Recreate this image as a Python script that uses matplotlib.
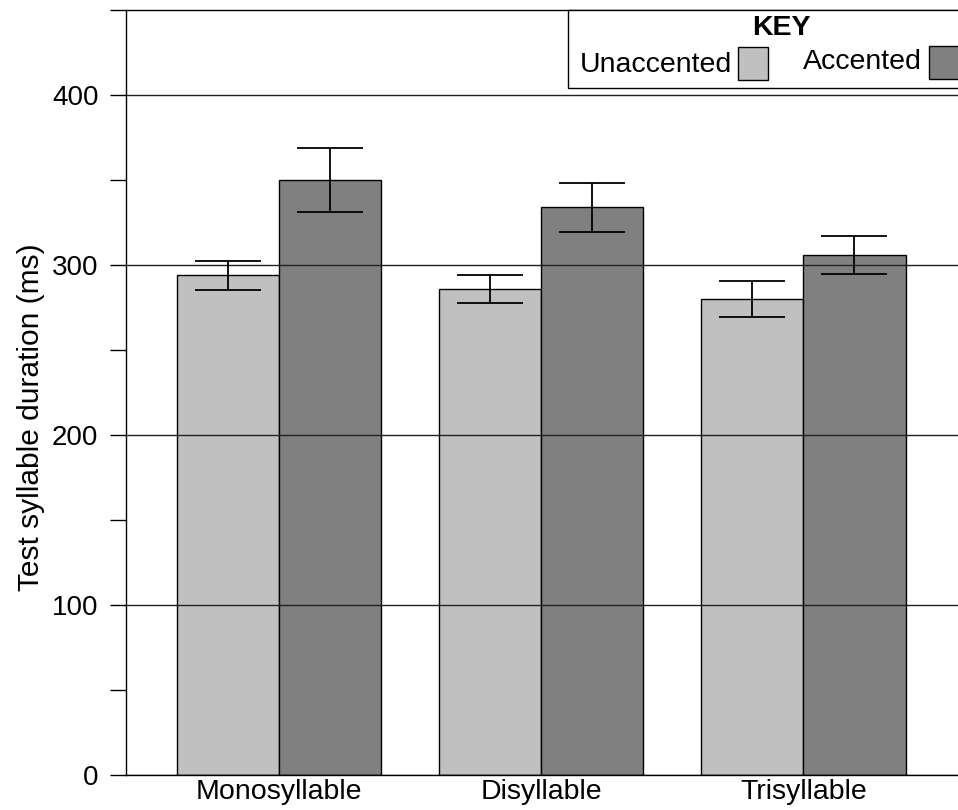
import numpy as np
import matplotlib.pyplot as plt
from matplotlib.patches import Rectangle

plt.rcParams['font.family'] = ['Liberation Sans', 'DejaVu Sans']

# Mean test syllable durations (ms) and error bar half-widths
categories = ['Monosyllable', 'Disyllable', 'Trisyllable']
unaccented = [294, 286, 280]
accented = [350, 334, 306]
unaccented_err = [8.6, 8.4, 10.5]
accented_err = [18.8, 14.3, 11.3]

W, H = 958, 810
fig = plt.figure(figsize=(W / 100, H / 100), dpi=100)
ax = fig.add_axes([125.5 / W, 35 / H, (958 - 125.5) / W, 765 / H])

x = np.arange(len(categories))
width = 0.39
light = '#c0c0c0'
dark = '#808080'

# grid lines sit on top of the bars
ax.set_axisbelow(False)
ax.bar(x - width / 2, unaccented, width, color=light, edgecolor='black', linewidth=1, zorder=1)
ax.bar(x + width / 2, accented, width, color=dark, edgecolor='black', linewidth=1, zorder=1)
ax.errorbar(x - width / 2, unaccented, yerr=unaccented_err, fmt='none', ecolor='black',
            elinewidth=1.3, capsize=24, capthick=1.3, zorder=4)
ax.errorbar(x + width / 2, accented, yerr=accented_err, fmt='none', ecolor='black',
            elinewidth=1.3, capsize=24, capthick=1.3, zorder=4)

ax.set_xlim(-0.585, 2.59)
ax.set_ylim(0, 450)
ax.set_xticks(x)
ax.set_xticklabels(categories, fontsize=20.5)
ax.tick_params(axis='x', length=0, pad=3)

ax.set_yticks([0, 100, 200, 300, 400])
ax.set_yticks([50, 150, 250, 350, 450], minor=True)
ax.tick_params(axis='y', which='both', length=11.5, width=1, labelsize=20, pad=8)
ax.yaxis.grid(True, which='major', color='#222222', linewidth=1)
ax.set_ylabel('Test syllable duration (ms)', fontsize=21.5)
ax.yaxis.set_label_coords(-0.097, 0.468)

ax.spines['right'].set_visible(False)
for s in ['left', 'top', 'bottom']:
    ax.spines[s].set_linewidth(1)

# Key box in the top right corner
def fx(px):
    return px / W

def fy(py):
    return 1 - py / H

fig.patches.append(Rectangle((fx(567.5), fy(88)), fx(958 - 567.5 + 20), (88 - 10) / H,
                             transform=fig.transFigure, facecolor='white',
                             edgecolor='black', linewidth=1, zorder=5))
fig.text(fx(781), fy(28), 'KEY', fontsize=20.5, fontweight='bold', ha='center', va='center', zorder=6)
fig.text(fx(580), fy(65), 'Unaccented', fontsize=20.5, ha='left', va='center', zorder=6)
fig.patches.append(Rectangle((fx(738), fy(80)), fx(30), 33 / H, transform=fig.transFigure,
                             facecolor=light, edgecolor='black', linewidth=1, zorder=6))
fig.text(fx(803), fy(62), 'Accented', fontsize=20.5, ha='left', va='center', zorder=6)
fig.patches.append(Rectangle((fx(929), fy(79)), fx(32), 33 / H, transform=fig.transFigure,
                             facecolor=dark, edgecolor='black', linewidth=1, zorder=6))

fig.savefig('out.png', dpi=100)
